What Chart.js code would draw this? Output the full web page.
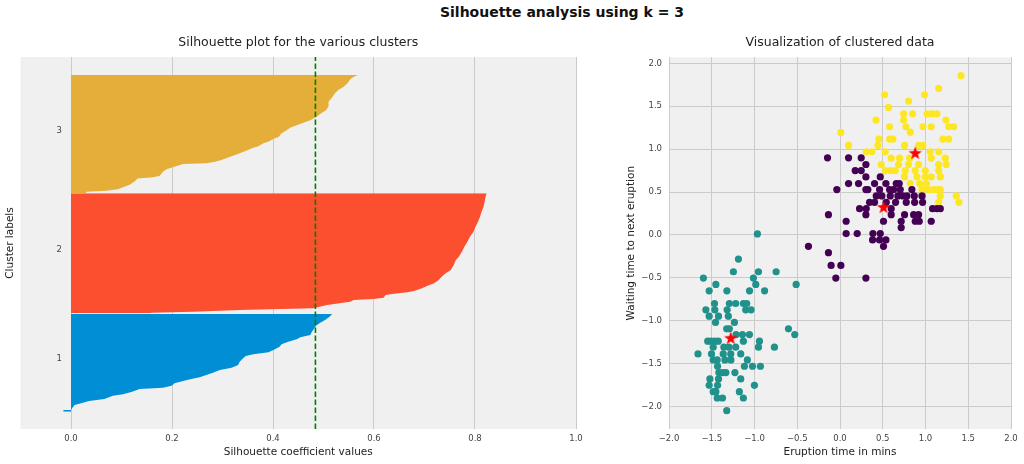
<!DOCTYPE html>
<html>
<head>
<meta charset="utf-8">
<script src="https://cdn.jsdelivr.net/npm/chart.js@4.4.1/dist/chart.umd.min.js"></script>
<style>
	body { margin: 0; background: #ffffff; width: 1024px; height: 464px; overflow: hidden; position: relative; }
	#suptitle { position: absolute; top: 3.5px; left: 562px; transform: translateX(-50%); white-space: nowrap;
		font: bold 14px "DejaVu Sans", sans-serif; line-height: 17px; color: #111; }
	.box { position: absolute; top: 0; height: 464px; }
</style>
</head>
<body>
<div id="suptitle">Silhouette analysis using k = 3</div>
<div class="box" style="left:0; width:600px;"><canvas id="silhouette"></canvas></div>
<div class="box" style="left:600px; width:424px;"><canvas id="clusters"></canvas></div>
<script>
// silhouette profile of each cluster: sample rank (y) and silhouette value (x)
var rank1 = [92.7, 90.6, 87.9, 85.2, 83.3, 80.6, 78.5, 75.8, 73.9, 72.3, 70.4, 68.3, 66.4, 63.7, 61.8, 60.2, 58.9, 57, 54.3, 51.6, 49.4, 47.6, 45.4, 43.5, 41.7, 40.3, 38.7, 36.8, 34.9, 33.3, 32.3, 30.1, 28, 26.9, 24.2, 22.6, 20.7, 19.4, 17.2, 15.3, 15.3, 14];
var sil1 = [0.517, 0.512, 0.503, 0.492, 0.485, 0.481, 0.477, 0.474, 0.454, 0.447, 0.430, 0.417, 0.413, 0.401, 0.391, 0.361, 0.346, 0.341, 0.334, 0.331, 0.318, 0.295, 0.281, 0.268, 0.255, 0.238, 0.222, 0.205, 0.199, 0.182, 0.136, 0.121, 0.103, 0.083, 0.066, 0.036, 0.020, 0.007, 0.003, 0.0, -0.015, -0.015];
var rank2 = [190.1, 187.4, 183.3, 179.3, 175.2, 171.2, 167.2, 163.2, 159.1, 155.1, 151.1, 147, 143, 139, 136.3, 132.3, 128.2, 125.6, 122.8, 120.2, 117.5, 115.3, 113.5, 111.3, 110.2, 109.1, 108.1, 105.9, 104.8, 104, 102.7, 100, 97.3, 96, 94.6, 93.8, 93.3];
var sil2 = [0.823, 0.821, 0.819, 0.817, 0.813, 0.810, 0.806, 0.801, 0.797, 0.790, 0.785, 0.779, 0.774, 0.768, 0.762, 0.758, 0.752, 0.742, 0.734, 0.728, 0.719, 0.705, 0.695, 0.679, 0.666, 0.639, 0.623, 0.619, 0.599, 0.560, 0.553, 0.507, 0.480, 0.334, 0.242, 0.159, 0.159];
var rank3 = [285.5, 284, 282, 279, 276, 273.5, 271, 268, 264, 260, 257, 255, 252, 249, 247, 245, 243, 241, 238.5, 235.5, 234, 232, 230.5, 228, 226.5, 224.5, 223, 221, 219, 217, 215.5, 214.3, 213.7, 211.5, 209.5, 207.5, 204, 203, 202, 199.5, 197, 195, 193.3, 192.2, 191.4, 190.1];
var sil3 = [0.568, 0.560, 0.553, 0.548, 0.540, 0.530, 0.523, 0.518, 0.510, 0.510, 0.505, 0.497, 0.487, 0.474, 0.460, 0.447, 0.434, 0.427, 0.417, 0.411, 0.401, 0.393, 0.381, 0.371, 0.358, 0.348, 0.338, 0.325, 0.311, 0.298, 0.285, 0.268, 0.222, 0.205, 0.189, 0.182, 0.175, 0.162, 0.132, 0.126, 0.116, 0.103, 0.093, 0.070, 0.030, 0.030];
var silhouetteAvg = 0.484;
var clusterTickPos = [56.5, 144.4, 240.3];
var clusterTickLabels = ['1', '2', '3'];
var silTicks = [0.0, 0.2, 0.4, 0.6, 0.8, 1.0];

// clustered data (standardised eruption time, waiting time)
var tealX = [-0.966, -1.188, -1.247, -1.598, -0.954, -0.747, -1.013, -1.452, -0.985, -0.513, -1.530, -1.323, -1.058, -0.882, -1.468, -1.294, -1.220, -1.130, -1.091, -1.569, -1.464, -1.320, -1.103, -1.040, -1.530, -1.421, -1.306, -1.456, -1.235, -1.325, -1.294, -0.603, -1.216, -1.141, -1.059, -0.529, -1.130, -0.942, -1.547, -1.508, -1.464, -1.424, -1.483, -1.358, -1.300, -1.220, -0.954, -0.767, -1.661, -1.503, -1.366, -1.278, -1.161, -1.483, -1.436, -1.346, -1.276, -1.083, -1.118, -1.023, -0.931, -1.432, -1.417, -1.374, -1.335, -1.229, -1.522, -1.421, -1.161, -1.530, -1.432, -1.001, -1.483, -1.452, -1.177, -1.436, -1.374, -1.130, -1.325];
var tealY = [0.012, -0.280, -0.428, -0.502, -0.428, -0.428, -0.502, -0.576, -0.576, -0.576, -0.650, -0.650, -0.650, -0.650, -0.798, -0.798, -0.798, -0.798, -0.798, -0.872, -0.872, -0.872, -0.872, -0.872, -0.946, -0.946, -0.946, -1.019, -1.019, -1.093, -1.093, -1.093, -1.160, -1.160, -1.160, -1.160, -1.237, -1.237, -1.237, -1.237, -1.237, -1.237, -1.307, -1.307, -1.307, -1.307, -1.307, -1.307, -1.385, -1.385, -1.385, -1.385, -1.385, -1.455, -1.455, -1.455, -1.455, -1.455, -1.529, -1.529, -1.529, -1.529, -1.603, -1.603, -1.603, -1.603, -1.677, -1.677, -1.677, -1.751, -1.751, -1.751, -1.825, -1.825, -1.825, -1.899, -1.899, -1.899, -2.047];
var purpleX = [-0.146, 0.100, 0.248, 0.303, 0.178, 0.248, 0.303, 0.471, 0.100, 0.217, 0.404, 0.537, 0.658, 0.693, -0.037, 0.303, 0.326, 0.463, 0.580, 0.627, 0.705, 0.841, 0.424, 0.490, 0.588, 0.677, 0.736, 0.783, 0.869, 0.959, 0.346, 0.404, 0.541, 0.650, 0.775, 0.873, 0.966, 0.229, 0.307, 0.599, 1.083, 1.134, 1.173, -0.135, 0.303, 0.599, 0.755, 0.861, 0.919, 0.072, 0.509, 0.716, 0.880, 0.927, 1.067, 0.716, 0.072, 0.201, 0.385, 0.471, 0.381, 0.463, 0.537, 0.509, -0.369, -0.135, -0.104, 0.010, -0.049, 0.303];
var purpleY = [0.899, 0.899, 0.899, 0.821, 0.751, 0.751, 0.677, 0.677, 0.599, 0.599, 0.599, 0.599, 0.599, 0.599, 0.529, 0.529, 0.529, 0.529, 0.529, 0.529, 0.529, 0.529, 0.455, 0.455, 0.455, 0.455, 0.455, 0.455, 0.455, 0.455, 0.381, 0.381, 0.381, 0.381, 0.381, 0.381, 0.381, 0.307, 0.307, 0.307, 0.307, 0.307, 0.307, 0.237, 0.237, 0.237, 0.237, 0.237, 0.237, 0.160, 0.160, 0.160, 0.160, 0.160, 0.160, 0.086, 0.016, 0.016, 0.016, 0.016, -0.058, -0.058, -0.058, -0.132, -0.132, -0.206, -0.354, -0.354, -0.502, -0.502];
var yellowX = [1.415, 0.522, 1.154, 0.989, 0.802, 0.568, 0.744, 0.849, 1.017, 1.075, 1.134, 0.420, 0.744, 1.239, 0.771, 0.970, 1.067, 1.271, 1.329, 0.580, 0.822, 0.010, 0.455, 0.580, 0.619, 1.204, 1.271, 0.100, 0.443, 0.755, 0.919, 0.970, 0.529, 0.307, 0.373, 1.056, 1.154, 0.599, 0.697, 0.814, 1.067, 1.231, 0.482, 0.685, 0.802, 0.919, 1.154, 1.243, 0.529, 0.588, 0.646, 0.763, 0.880, 0.998, 1.154, 0.755, 0.900, 0.998, 1.067, 1.173, 0.822, 0.931, 1.009, 0.959, 1.036, 1.095, 1.134, 1.173, 1.173, 1.360, 1.154, 1.391];
var yellowY = [1.856, 1.634, 1.708, 1.634, 1.560, 1.486, 1.412, 1.412, 1.412, 1.412, 1.412, 1.339, 1.339, 1.339, 1.261, 1.261, 1.261, 1.261, 1.261, 1.261, 1.198, 1.195, 1.117, 1.117, 1.117, 1.117, 1.117, 1.043, 1.043, 1.043, 1.043, 1.043, 0.969, 0.969, 0.969, 0.969, 0.969, 0.895, 0.895, 0.895, 0.895, 0.895, 0.821, 0.821, 0.821, 0.821, 0.821, 0.821, 0.751, 0.751, 0.751, 0.751, 0.751, 0.751, 0.751, 0.677, 0.677, 0.677, 0.677, 0.677, 0.599, 0.599, 0.599, 0.529, 0.529, 0.529, 0.529, 0.529, 0.455, 0.455, 0.381, 0.381];
var centroidX = [0.509, -1.278, 0.880];
var centroidY = [0.327, -1.198, 0.957];
var scatterTicks = [-2.0, -1.5, -1.0, -0.5, 0.0, 0.5, 1.0, 1.5, 2.0];

Chart.defaults.font.family = '"DejaVu Sans", sans-serif';
Chart.defaults.color = '#333';
Chart.defaults.animation = false;

function pairs(xs, ys) {
	return xs.map(function (x, i) { return {x: x, y: ys[i]}; });
}

function minusSign(v) {
	return v.toFixed(1).replace('-', '\u2212');
}

// grey panel behind the plot, and the subplot title centred over it
var panel = {
	id: 'panel',
	beforeDraw: function (chart, args, opts) {
		var a = chart.chartArea, ctx = chart.ctx;
		ctx.save();
		ctx.fillStyle = '#f0f0f0';
		ctx.fillRect(a.left, a.top, a.right - a.left, a.bottom - a.top);
		ctx.fillStyle = '#222';
		ctx.font = '12.5px "DejaVu Sans", sans-serif';
		ctx.textAlign = 'center';
		ctx.textBaseline = 'middle';
		ctx.fillText(opts.title, (a.left + a.right) / 2, 42.5);
		ctx.restore();
	}
};

var silFill = function (ranks, vals, color) {
	return {
		data: pairs(vals, ranks),
		indexAxis: 'y',
		fill: 'origin',
		backgroundColor: color,
		borderColor: color,
		borderWidth: 0,
		pointRadius: 0,
		tension: 0,
		order: 1
	};
};

new Chart('silhouette', {
	type: 'line',
	data: {
		datasets: [{
			data: [{x: silhouetteAvg, y: 0}, {x: silhouetteAvg, y: 300}],
			borderColor: '#008000',
			borderWidth: 1.6,
			borderDash: [5.5, 2.5],
			pointRadius: 0,
			fill: false,
			order: 0
		},
		silFill(rank1, sil1, '#008fd5'),
		silFill(rank2, sil2, '#fc4f30'),
		silFill(rank3, sil3, '#e5ae38')]
	},
	options: {
		responsive: true,
		maintainAspectRatio: false,
		layout: {padding: {left: 0, right: 24, top: 57, bottom: 0}},
		plugins: {
			legend: {display: false},
			tooltip: {enabled: false},
			panel: {title: 'Silhouette plot for the various clusters'}
		},
		scales: {
			x: {
				type: 'linear', min: -0.1, max: 1.0,
				afterBuildTicks: function (s) { s.ticks = silTicks.map(function (v) { return {value: v}; }); },
				afterFit: function (s) { s.height = 35; },
				ticks: {callback: function (v) { return minusSign(v); }, font: {size: 8.5}, color: '#444', padding: 5},
				grid: {color: '#cbcbcb', lineWidth: 1, drawTicks: false},
				border: {display: false},
				title: {display: true, text: 'Silhouette coefficient values', font: {size: 10.5}, color: '#222', padding: {top: 0, bottom: 5.7}}
			},
			y: {
				type: 'linear', min: 0, max: 300,
				afterBuildTicks: function (s) { s.ticks = clusterTickPos.map(function (v) { return {value: v}; }); },
				afterFit: function (s) { s.width = 20.5; s.paddingTop = 0; s.paddingBottom = 0; },
				ticks: {callback: function (v, i) { return clusterTickLabels[i]; }, font: {size: 8.5}, color: '#444', mirror: true, padding: 36},
				grid: {display: false, drawTicks: false},
				border: {display: false},
				title: {display: true, text: 'Cluster labels', font: {size: 10.5}, color: '#222', padding: {top: 3.7, bottom: 0}}
			}
		}
	},
	plugins: [panel]
});

// filled red star used for the centroids
var star = document.createElement('canvas');
star.width = 16; star.height = 16;
(function () {
	var c = star.getContext('2d');
	c.beginPath();
	for (var k = 0; k < 10; k++) {
		var r = k % 2 === 0 ? 7 : 2.8;
		var a = -Math.PI / 2 + k * Math.PI / 5;
		c.lineTo(8 + r * Math.cos(a), 8.6 + r * Math.sin(a));
	}
	c.closePath();
	c.fillStyle = '#ff0000';
	c.fill();
})();

function dots(xs, ys, color) {
	return {data: pairs(xs, ys), backgroundColor: color, borderColor: color, borderWidth: 0, pointRadius: 3.6, order: 1};
}

new Chart('clusters', {
	type: 'scatter',
	data: {
		datasets: [{
			data: pairs(centroidX, centroidY),
			pointStyle: star,
			order: 0
		},
		dots(tealX, tealY, '#21918c'),
		dots(purpleX, purpleY, '#440154'),
		dots(yellowX, yellowY, '#fde725')]
	},
	options: {
		responsive: true,
		maintainAspectRatio: false,
		layout: {padding: {left: 0, right: 13, top: 57.3, bottom: 0}},
		plugins: {
			legend: {display: false},
			tooltip: {enabled: false},
			panel: {title: 'Visualization of clustered data'}
		},
		scales: {
			x: {
				type: 'linear', min: -2.0, max: 2.0,
				afterBuildTicks: function (s) { s.ticks = scatterTicks.map(function (v) { return {value: v}; }); },
				afterFit: function (s) { s.height = 35; },
				ticks: {callback: function (v) { return minusSign(v); }, font: {size: 8.5}, color: '#444', padding: 5},
				grid: {color: '#cbcbcb', lineWidth: 1, drawTicks: false},
				border: {display: false},
				title: {display: true, text: 'Eruption time in mins', font: {size: 10.5}, color: '#222', padding: {top: 0, bottom: 5.7}}
			},
			y: {
				type: 'linear', min: -2.26, max: 2.07,
				afterBuildTicks: function (s) { s.ticks = scatterTicks.map(function (v) { return {value: v}; }); },
				afterFit: function (s) { s.width = 69; },
				ticks: {callback: function (v) { return minusSign(v); }, font: {size: 8.5}, color: '#444', padding: 7},
				grid: {color: '#cbcbcb', lineWidth: 1, drawTicks: false},
				border: {display: false},
				title: {display: true, text: 'Waiting time to next eruption', font: {size: 10.5}, color: '#222', padding: {top: 25, bottom: 0}}
			}
		}
	},
	plugins: [panel]
});
</script>
</body>
</html>
